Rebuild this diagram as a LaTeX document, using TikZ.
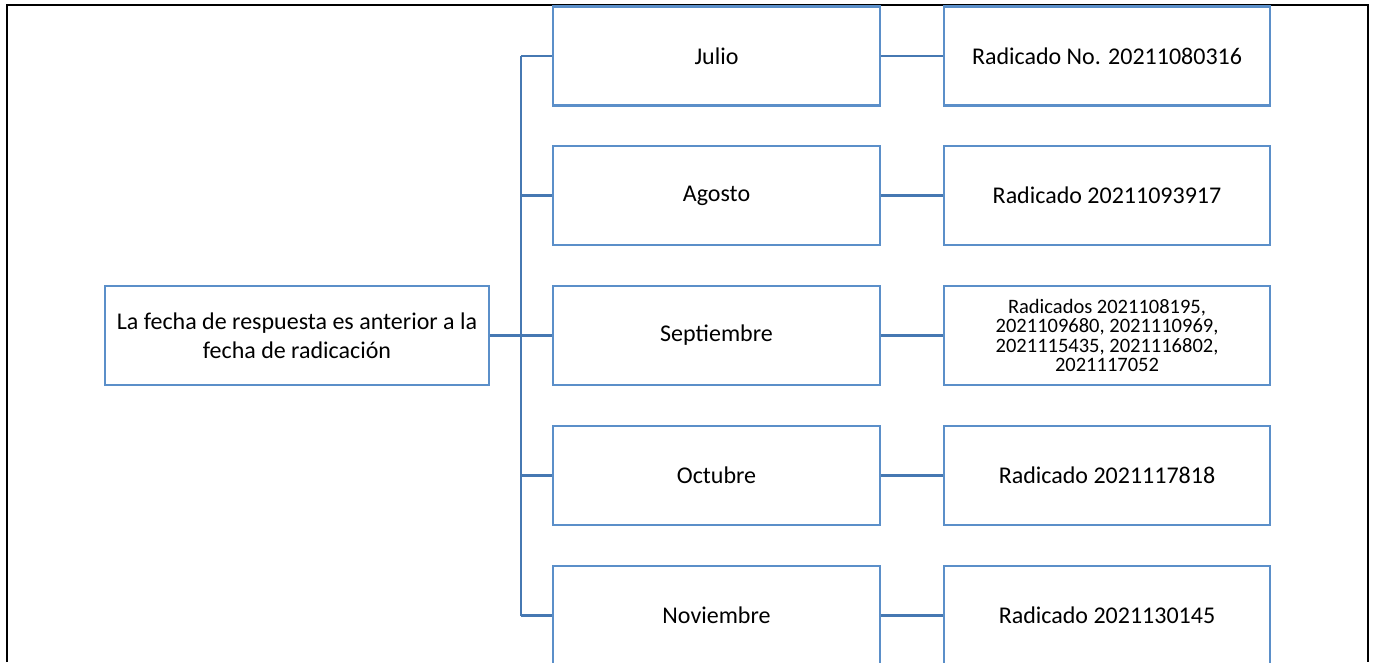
\documentclass[tikz,border=0pt]{standalone}
\usepackage{fontspec}
\setmainfont{Carlito}
\usepackage{tikz}
\usetikzlibrary{calc,positioning}

\definecolor{boxblue}{RGB}{91,143,201}
\definecolor{lineblue}{RGB}{70,120,178}

\begin{document}
\begin{tikzpicture}[x=1pt,y=-1pt,
		box/.style={draw=boxblue,line width=2.4pt,align=center,inner sep=0pt,
			font=\fontsize{24}{29}\selectfont},
		mes/.style={box,minimum width=327pt,minimum height=99pt},
		rad/.style={box,minimum width=326pt,minimum height=99pt},
		con/.style={draw=lineblue,line width=2.4pt}]
		\useasboundingbox (0,0) rectangle (1375,662);
		\draw[line width=1.8pt] (7,662) -- (7,5) -- (1368,5) -- (1368,662);
		\node[box,minimum width=384pt,minimum height=99pt] (causa) at (297,335.5) {La fecha de respuesta es anterior a la\\fecha de radicación};
		\node[mes] (jul) at (716.5,56) {Julio};
		\node[mes] (ago) at (716.5,195.5) {Agosto};
		\node[mes] (sep) at (716.5,335.5) {Septiembre};
		\node[mes] (oct) at (716.5,475.5) {Octubre};
		\node[mes] (nov) at (716.5,615.5) {Noviembre};
		\node[rad] (rjul) at (1107,56) {Radicado No. 20211080316};
		\node[rad] (rago) at (1107,195.5) {Radicado 20211093917};
		\node[rad,font=\fontsize{20.5}{19.5}\selectfont] (rsep) at (1107,335.5) {Radicados 2021108195,\\2021109680, 2021110969,\\2021115435, 2021116802,\\2021117052};
		\node[rad] (roct) at (1107,475.5) {Radicado 2021117818};
		\node[rad] (rnov) at (1107,615.5) {Radicado 2021130145};
		\coordinate (bus) at (521,335.5);
		\draw[con] (causa.east) -- (bus);
		\draw[con] (jul.west -| bus) -- (nov.west -| bus);
		\draw[con] (jul.west -| bus) -- (jul.west);
		\draw[con] (ago.west -| bus) -- (ago.west);
		\draw[con] (sep.west -| bus) -- (sep.west);
		\draw[con] (oct.west -| bus) -- (oct.west);
		\draw[con] (nov.west -| bus) -- (nov.west);
		\draw[con] (jul) -- (rjul);
		\draw[con] (ago) -- (rago);
		\draw[con] (sep) -- (rsep);
		\draw[con] (oct) -- (roct);
		\draw[con] (nov) -- (rnov);
	\end{tikzpicture}
\end{document}
